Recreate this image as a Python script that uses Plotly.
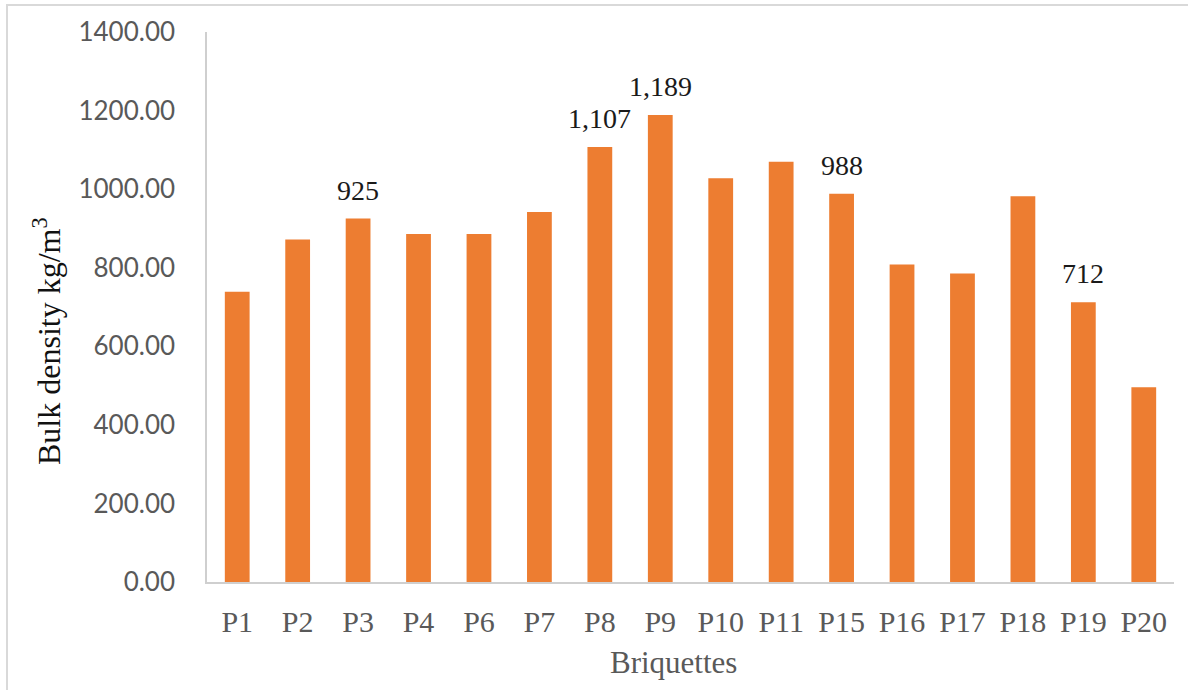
import plotly.graph_objects as go

# Briquette samples and their bulk density (kg/m3)
samples = ["P1", "P2", "P3", "P4", "P6", "P7", "P8", "P9", "P10", "P11",
           "P15", "P16", "P17", "P18", "P19", "P20"]
bulk_density = [739, 872, 925, 886, 886, 942, 1107, 1189, 1028, 1070,
                988, 808, 785, 982, 712, 496]
# Samples whose value is written above the bar
labelled = ["P3", "P8", "P9", "P15", "P19"]

y_ticks = [0, 200, 400, 600, 800, 1000, 1200, 1400]

W, H = 1188, 690
ML, MR, MT, MB = 207, 14, 32, 108
PW, PH = W - ML - MR, H - MT - MB


def px_to_xpaper(px):
    return (px - ML) / PW


def px_to_ypaper(py):
    return (H - MB - py) / PH


SERIF = "Liberation Serif, Times New Roman, serif"
SANS = "Lato, Open Sans, sans-serif"
ORANGE = "#ED7D31"
GRAY = "#595959"

fig = go.Figure(
    go.Bar(
        x=samples,
        y=bulk_density,
        marker=dict(color=ORANGE, line=dict(width=0)),
        hoverinfo="x+y",
    )
)

annotations = []
for name, val in zip(samples, bulk_density):
    if name in labelled:
        annotations.append(dict(
            x=name, y=val, xref="x", yref="y",
            text=f"{val:,}", showarrow=False,
            yanchor="bottom", yshift=11,
            font=dict(family=SERIF, size=28, color="#1a1a1a"),
        ))

# Axis titles
annotations.append(dict(
    x=px_to_xpaper(47), y=px_to_ypaper(341), xref="paper", yref="paper",
    text="Bulk density kg/m<sup>3</sup>", showarrow=False, textangle=-90,
    xanchor="center", yanchor="middle",
    font=dict(family=SERIF, size=32, color="#111111"),
))
annotations.append(dict(
    x=px_to_xpaper(673), y=px_to_ypaper(662), xref="paper", yref="paper",
    text="Briquettes", showarrow=False,
    xanchor="center", yanchor="middle",
    font=dict(family=SERIF, size=31, color=GRAY),
))

fig.update_layout(
    width=W, height=H,
    margin=dict(l=ML, r=MR, t=MT, b=MB, pad=0),
    paper_bgcolor="white", plot_bgcolor="white",
    bargap=0.59,
    showlegend=False,
    annotations=annotations,
    shapes=[dict(
        type="rect", xref="paper", yref="paper",
        x0=px_to_xpaper(7), x1=px_to_xpaper(1192),
        y0=px_to_ypaper(700), y1=px_to_ypaper(5),
        line=dict(color="#d9d9d9", width=2), fillcolor="rgba(0,0,0,0)",
        layer="below",
    )],
    xaxis=dict(
        showgrid=False, showline=True, linecolor="#cfcfcf", linewidth=1.5,
        ticks="", ticklabelstandoff=12,
        tickfont=dict(family=SERIF, size=30, color=GRAY),
        fixedrange=True,
    ),
    yaxis=dict(
        range=[0, 1400], tickvals=y_ticks, tickformat=".2f",
        showgrid=False, showline=True, linecolor="#cfcfcf", linewidth=1.5,
        ticks="", ticklabelstandoff=25, zeroline=False,
        tickfont=dict(family=SANS, size=26, color=GRAY),
        fixedrange=True,
    ),
)

fig.write_html("out.html")
